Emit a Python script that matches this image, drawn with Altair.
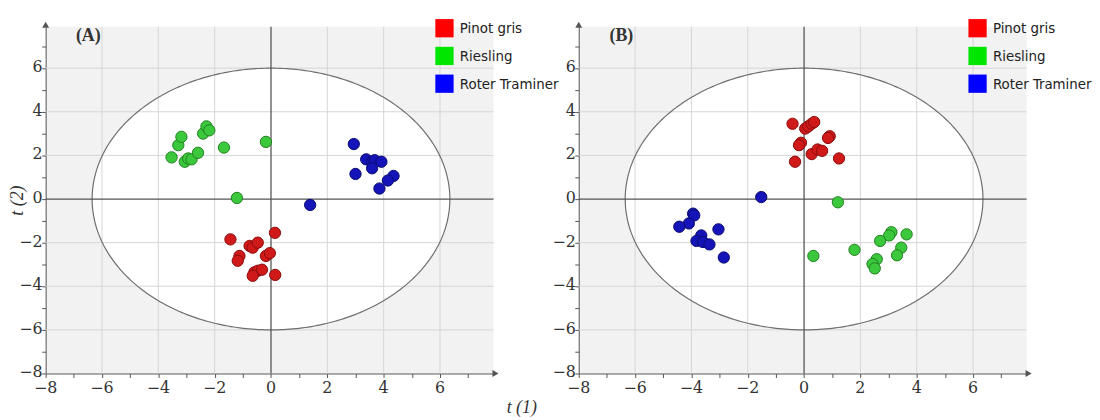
import altair as alt
import pandas as pd

cultivars = ["Pinot gris", "Riesling", "Roter Traminer"]
legend_colors = ["#ff0000", "#00e600", "#0000ff"]
fill_colors = ["#d01a1a", "#3cc83c", "#1414b8"]
stroke_colors = ["#8a0c0c", "#1f7f1f", "#0a0a6e"]

# Panel A scores
a_pinot_x = [0.14, -1.44, -0.76, -0.65, -0.47, -0.18, -0.04, -1.12, -1.18, -0.59, -0.47, -0.32, -0.65, 0.15]
a_pinot_y = [-1.55, -1.85, -2.15, -2.23, -2.0, -2.61, -2.48, -2.61, -2.83, -3.36, -3.29, -3.24, -3.52, -3.48]
a_ries_x = [-3.53, -3.29, -3.18, -3.06, -2.94, -2.82, -2.59, -2.41, -2.29, -2.19, -1.67, -0.18, -1.21]
a_ries_y = [1.91, 2.47, 2.85, 1.71, 1.86, 1.82, 2.12, 3.0, 3.33, 3.15, 2.36, 2.62, 0.05]
a_rt_x = [2.94, 3.38, 3.59, 3.68, 3.92, 3.59, 3.0, 4.35, 4.15, 3.85, 1.39]
a_rt_y = [2.52, 1.82, 1.71, 1.78, 1.71, 1.41, 1.15, 1.06, 0.85, 0.48, -0.27]

# Panel B scores
b_pinot_x = [-0.41, 0.04, 0.15, 0.27, 0.36, -0.11, -0.18, 0.91, 0.85, 0.27, 0.48, 0.64, -0.32, 1.24]
b_pinot_y = [3.45, 3.23, 3.33, 3.45, 3.53, 2.58, 2.47, 2.88, 2.8, 2.06, 2.27, 2.21, 1.71, 1.86]
b_ries_x = [1.2, 3.1, 3.02, 3.64, 2.7, 3.45, 1.79, 3.3, 0.33, 2.58, 2.43, 2.51]
b_ries_y = [-0.15, -1.52, -1.67, -1.62, -1.92, -2.23, -2.33, -2.58, -2.61, -2.76, -2.98, -3.18]
b_rt_x = [-1.52, -3.94, -3.9, -4.09, -4.43, -3.04, -3.65, -3.82, -3.59, -3.36, -2.85]
b_rt_y = [0.09, -0.67, -0.75, -1.12, -1.27, -1.39, -1.67, -1.92, -1.97, -2.08, -2.68]

grid_values = [-6, -4, -2, 2, 4, 6]
tick_values = list(range(-8, 8))
label_values = [-8, -6, -4, -2, 0, 2, 4, 6]
label_texts = ["\u22128", "\u22126", "\u22124", "\u22122", "0", "2", "4", "6"]
ellipse_a = 6.35
ellipse_b = 6.0

W, H = 452, 350
SERIF = "Liberation Serif"
LABEL_FONT = "DejaVu Serif"
NARROW = "Liberation Sans Narrow, DejaVu Sans Condensed, Liberation Sans"

xs = alt.Scale(domain=[-8, 7.9], nice=False, zero=False)
ys = alt.Scale(domain=[-8, 7.9], nice=False, zero=False)


def make_df(px, py, rx, ry, tx, ty):
    rows = []
    for name, xx, yy in [(cultivars[0], px, py), (cultivars[1], rx, ry), (cultivars[2], tx, ty)]:
        for a, b in zip(xx, yy):
            rows.append({"x": a, "y": b, "cultivar": name})
    return pd.DataFrame(rows)


def panel(df, label, show_titles):
    xaxis = alt.Axis(
        values=tick_values, labels=False,
        title="t (1)" if show_titles else None,
        titleX=480, titleY=25,
    )
    yaxis = alt.Axis(
        values=tick_values, labels=False,
        title="t (2)" if show_titles else None,
        titleX=-19, titleBaseline="bottom",
    )
    X = alt.X("x:Q", scale=xs, axis=xaxis)
    Y = alt.Y("y:Q", scale=ys, axis=yaxis)

    upper = alt.Chart(alt.sequence(0, 181, 1, as_="t")).transform_calculate(
        x=f"{ellipse_a}*cos(datum.t*PI/180)",
        y=f"{ellipse_b}*sin(datum.t*PI/180)",
        y2=f"-{ellipse_b}*sin(datum.t*PI/180)",
    )
    fill = upper.mark_area(color="white").encode(x=X, y=Y, y2="y2:Q")
    outline = alt.Chart(alt.sequence(0, 361, 1, as_="t")).transform_calculate(
        x=f"{ellipse_a}*cos(datum.t*PI/180)",
        y=f"{ellipse_b}*sin(datum.t*PI/180)",
    ).mark_line(color="#6f6f6f", strokeWidth=1.2).encode(x=X, y=Y, order="t:Q")

    gx = alt.Chart(pd.DataFrame({"x": grid_values})).mark_rule(color="#d6d6d6", strokeWidth=1).encode(x=X)
    gy = alt.Chart(pd.DataFrame({"y": grid_values})).mark_rule(color="#d6d6d6", strokeWidth=1).encode(y=Y)
    ox = alt.Chart(pd.DataFrame({"x": [0]})).mark_rule(color="#555", strokeWidth=1.3).encode(x=X)
    oy = alt.Chart(pd.DataFrame({"y": [0]})).mark_rule(color="#555", strokeWidth=1.3).encode(y=Y)

    lab_df = pd.DataFrame({"x": label_values, "y": label_values, "txt": label_texts})
    xlab = alt.Chart(lab_df).mark_text(
        font=LABEL_FONT, fontSize=16, fontWeight="normal", color="#333", align="center", baseline="top"
    ).encode(x=X, y=alt.value(H + 7), text="txt:N")
    ylab = alt.Chart(lab_df).mark_text(
        font=LABEL_FONT, fontSize=16, fontWeight="normal", color="#333", align="right", baseline="middle", dy=-1
    ).encode(y=Y, x=alt.value(-3), text="txt:N")

    pts = alt.Chart(df).mark_circle(size=130, opacity=1, strokeWidth=1).encode(
        x=X, y=Y,
        fill=alt.Fill("cultivar:N", scale=alt.Scale(domain=cultivars, range=fill_colors), legend=None),
        stroke=alt.Stroke("cultivar:N", scale=alt.Scale(domain=cultivars, range=stroke_colors), legend=None),
    )
    leg = alt.Chart(df).mark_square(opacity=0).encode(
        x=X, y=Y,
        color=alt.Color(
            "cultivar:N",
            scale=alt.Scale(domain=cultivars, range=legend_colors),
            legend=alt.Legend(
                orient="none", legendX=393, legendY=-8, title=None,
                symbolType="square", symbolSize=340, symbolOpacity=1, symbolStrokeWidth=0,
                labelFont=NARROW, labelFontSize=15, labelColor="#222", labelOffset=6,
                rowPadding=9, padding=0,
            ),
        ),
    )
    dummy = pd.DataFrame({"k": [0]})
    arr_x = alt.Chart(dummy).mark_point(shape="triangle-right", filled=True, size=50, color="#555", opacity=1).encode(
        x=alt.value(W + 2), y=alt.value(H))
    arr_y = alt.Chart(dummy).mark_point(shape="triangle-up", filled=True, size=50, color="#555", opacity=1).encode(
        x=alt.value(0), y=alt.value(-2))
    lab = alt.Chart(pd.DataFrame({"label": [label]})).mark_text(
        font=SERIF, fontSize=18, fontWeight="bold", color="#333", align="center", baseline="middle"
    ).encode(text="label:N", x=alt.value(43), y=alt.value(9))

    return alt.layer(fill, gx, gy, outline, ox, oy, xlab, ylab, pts, leg, arr_x, arr_y, lab).properties(width=W, height=H)


df_a = make_df(a_pinot_x, a_pinot_y, a_ries_x, a_ries_y, a_rt_x, a_rt_y)
df_b = make_df(b_pinot_x, b_pinot_y, b_ries_x, b_ries_y, b_rt_x, b_rt_y)

chart = alt.hconcat(
    panel(df_a, "(A)", True),
    panel(df_b, "(B)", False),
    spacing=86, bounds="flush",
).resolve_scale(color="independent").resolve_legend(color="independent").configure_view(
    fill="#f2f2f2", stroke=None
).configure_axis(
    grid=False, domainColor="#555", tickColor="#555", tickSize=4,
    titleFont=SERIF, titleFontSize=18, titleFontWeight="normal", titleFontStyle="italic",
    titleColor="#333", titlePadding=2,
).properties(padding={"left": 1, "top": 9, "right": 0, "bottom": 0})

chart.save("out.html", embed_options={"renderer": "svg", "actions": False})
